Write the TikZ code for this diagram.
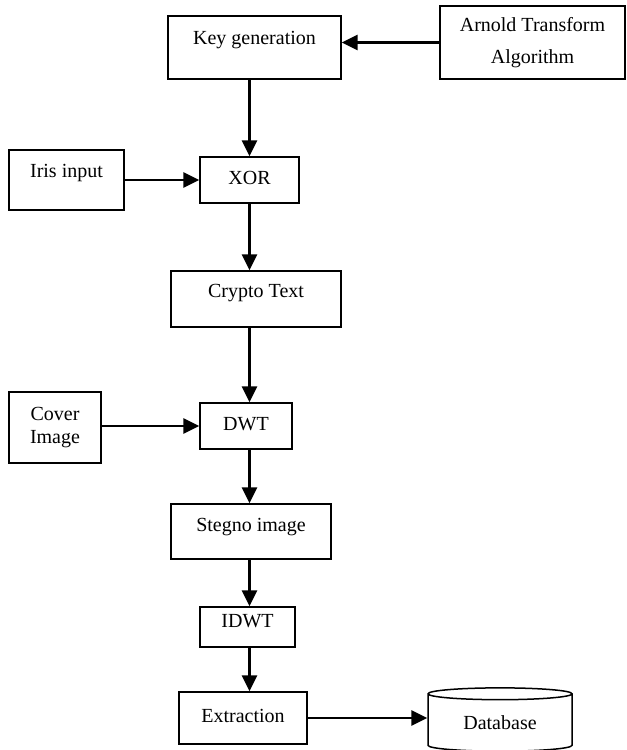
\documentclass[tikz,border=0pt]{standalone}
\usepackage{fontspec}
\setmainfont{Liberation Serif}
\usetikzlibrary{arrows.meta,shapes.geometric}

\tikzset{
	box/.style={draw, line width=0.9pt, align=center, inner sep=2pt},
	txt/.style={text height=8pt, text depth=#1},
	txt/.default=3pt,
	flow/.style={->, line width=1.4pt}
}

\begin{document}
\begin{tikzpicture}[x=0.6pt, y=-0.6pt, >={Triangle[length=9.5pt,width=9pt]},
		font=\fontsize{12}{14}\selectfont]
		\useasboundingbox (0,0) rectangle (626,750);
		% boxes
		\node[box, minimum width=111pt, minimum height=43.8pt] (arnold) at (532.5,42.5) {Arnold Transform\\[5.5pt]Algorithm};
		\node[box, txt=12pt, minimum width=103.8pt, minimum height=37.8pt] (keygen) at (254.5,47.5) {Key generation};
		\node[box, txt=11.4pt, minimum width=69pt, minimum height=36pt] (iris) at (66.5,180) {Iris input};
		\node[box, txt, minimum width=59.4pt, minimum height=27.6pt] (xor) at (249.5,180) {XOR};
		\node[box, txt=10pt, minimum width=102pt, minimum height=33.6pt] (crypto) at (256,299) {Crypto Text};
		\node[box, minimum width=55.2pt, minimum height=42.6pt] (cover) at (55,427.5) {Cover\\Image};
		\node[box, txt, minimum width=55.2pt, minimum height=27.6pt] (dwt) at (246,426) {DWT};
		\node[box, txt=8.5pt, minimum width=96pt, minimum height=33pt] (stegno) at (251,531.5) {Stegno image};
		\node[box, txt=8pt, minimum width=57pt, minimum height=24pt] (idwt) at (247.5,627) {IDWT};
		\node[box, txt, minimum width=76.8pt, minimum height=31.2pt] (extract) at (243,718) {Extraction};
		\node[draw, line width=0.9pt, cylinder, shape border rotate=90, aspect=0.14,
			minimum width=86.4pt, minimum height=38pt, txt=1pt] (db) at (500,724) {Database};
		% arrows
		\draw[flow] (arnold) -- (arnold -| keygen.east);
		\draw[flow] (xor |- keygen.south) -- (xor.north);
		\draw[flow] (iris) -- (iris -| xor.west);
		\draw[flow] (xor.south) -- (xor |- crypto.north);
		\draw[flow] (xor |- crypto.south) -- (xor |- dwt.north);
		\draw[flow] (dwt -| cover.east) -- (dwt.west);
		\draw[flow] (xor |- dwt.south) -- (xor |- stegno.north);
		\draw[flow] (xor |- stegno.south) -- (xor |- idwt.north);
		\draw[flow] (xor |- idwt.south) -- (xor |- extract.north);
		\draw[flow] (extract) -- (extract -| db.west);
\end{tikzpicture}
\end{document}
